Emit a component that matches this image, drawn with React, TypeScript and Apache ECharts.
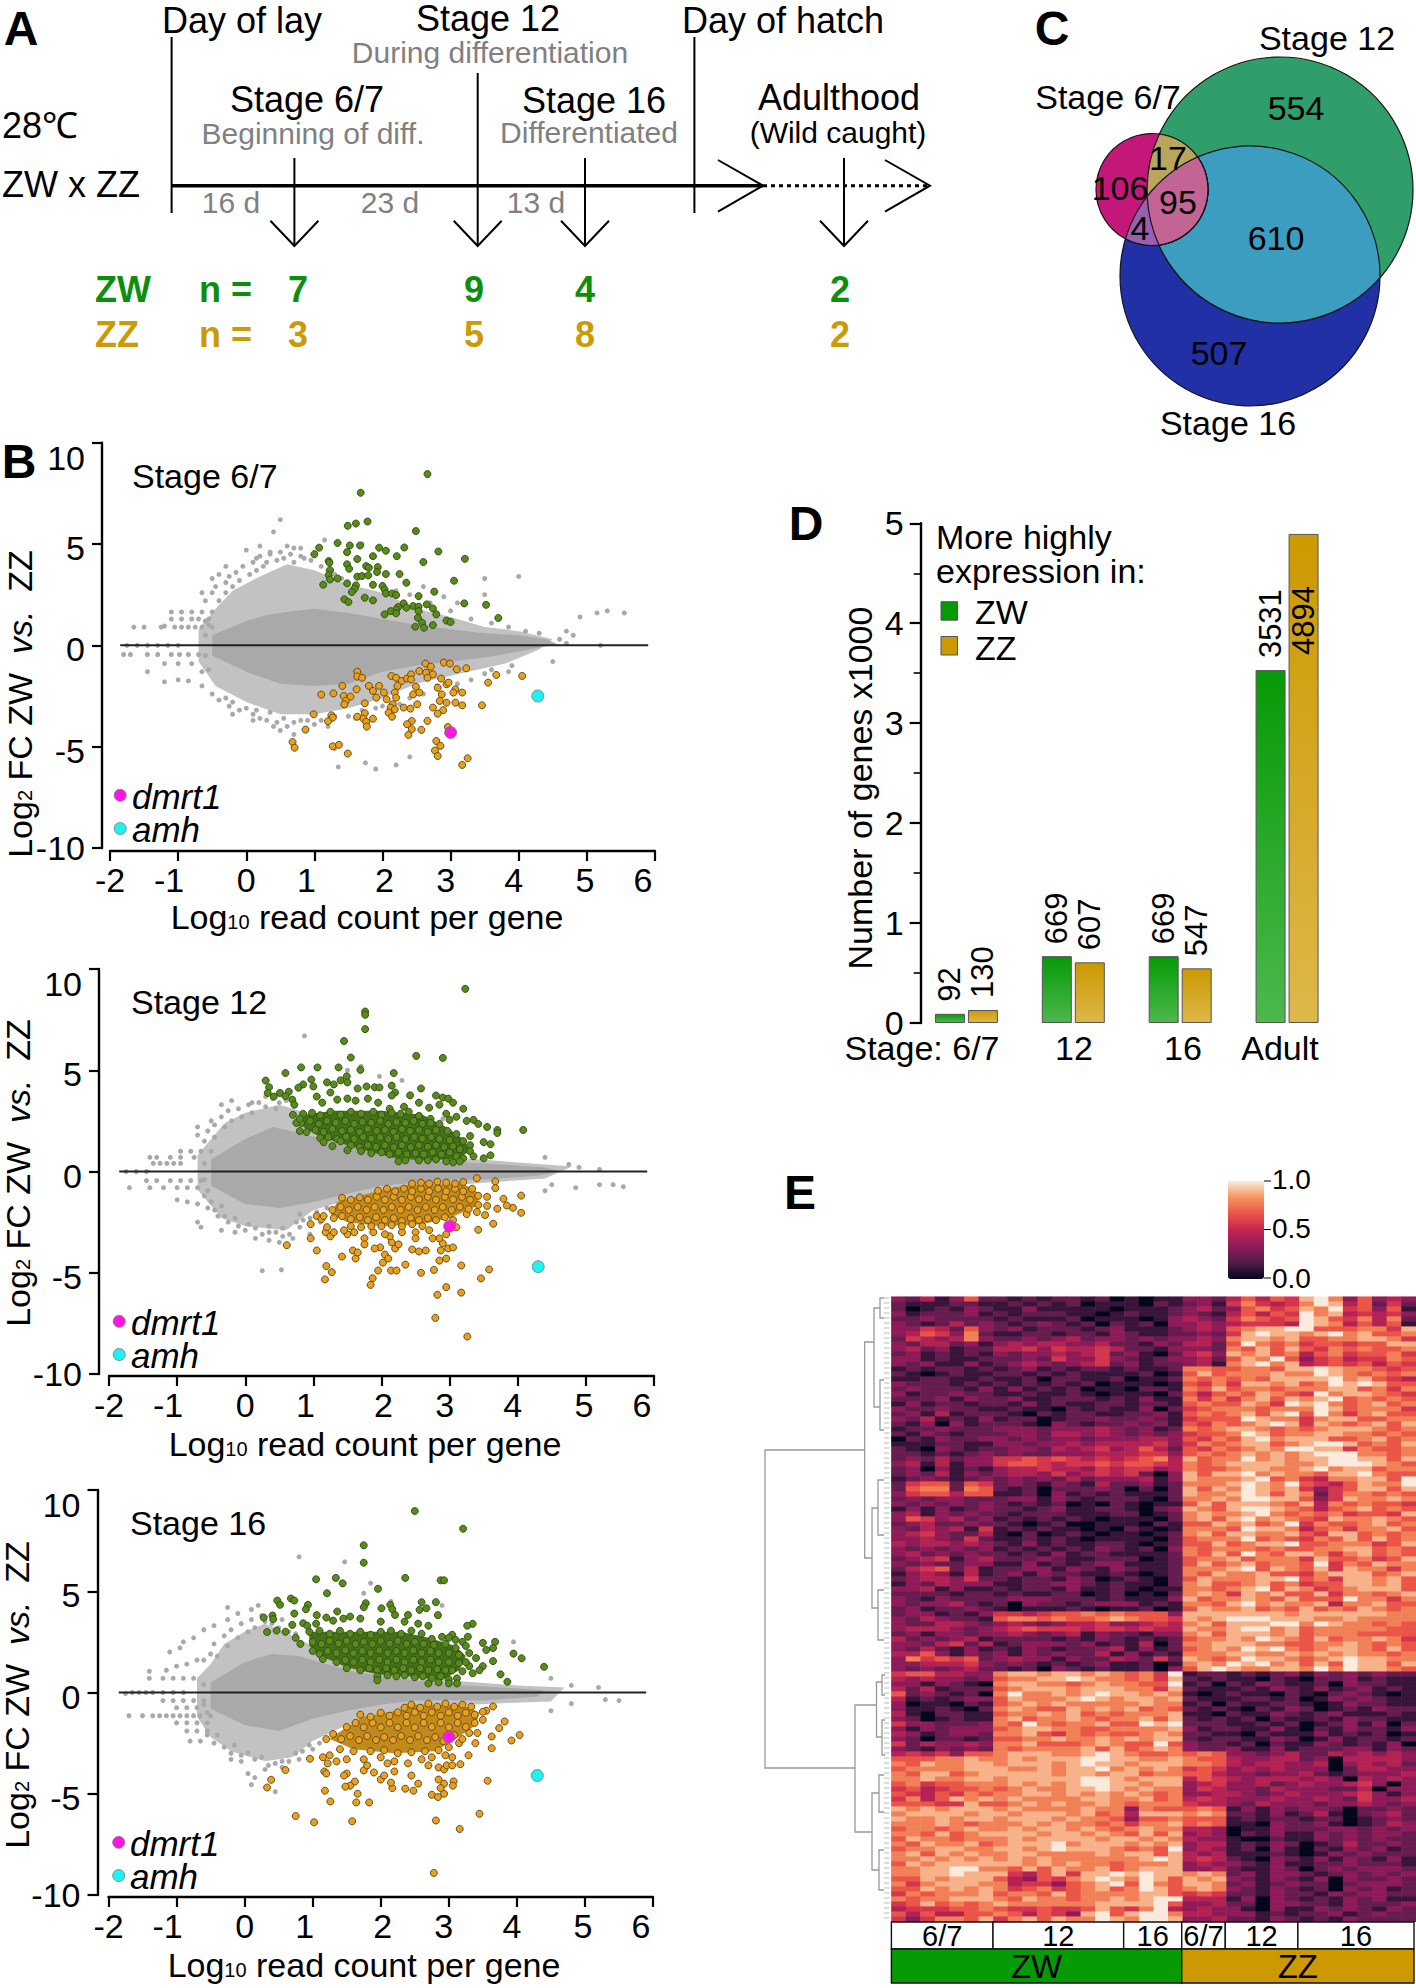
import React, { useEffect, useRef } from "react";
import * as echarts from "echarts";

const FONT = "Liberation Sans, Arial, sans-serif";
const pairs = (a: number[]) => { const o: number[][] = []; for (let i = 0; i + 1 < a.length; i += 2) o.push([a[i], a[i + 1]]); return o; };

// ---- Panel B: stage 6/7
const coreB1 = [[-.5,.5],[0,1.2],[.3,1.5],[.7,1.7],[1,1.8],[1.5,1.6],[2,1.3],[2.5,1],[3,.8],[3.5,.6],[4,.5],[4.4,.3],[4.6,0],[4.4,-.05],[4,-.3],[3.5,-.6],[3,-.8],[2.5,-1],[2,-1.3],[1.5,-1.9],[1,-2],[.5,-1.9],[0,-1.3],[-.5,-.5]];
const fringeB1 = [[-.7,.8],[-.45,1.8],[-.2,2.7],[.2,3.4],[.6,4],[1,3.7],[1.5,3],[2,2.6],[2.5,1.8],[3,1.4],[3.5,.9],[4,.7],[4.5,.3],[4.3,-.2],[3.8,-.9],[3,-1.5],[2.5,-1.9],[2,-2.6],[1.5,-3.1],[1,-3.4],[.5,-3.4],[0,-2.8],[-.45,-2],[-.7,-.8]];
const greyB1 = [-1.65,.9,-1.5,.9,-1.25,.9,-1.2,.95,-1.05,.9,-.95,.9,-.85,.9,-.75,.9,-.65,.9,-.5,.9,-1.1,1.3,-.95,1.3,-.8,1.3,-.7,1.3,-.55,1.3,-1.1,1.65,-.95,1.65,-.8,1.65,-.65,1.65,-.5,1.65,-1.8,-.45,-1.7,-.45,-1.45,-.45,-1.3,-.45,-1.1,-.45,-.98,-.45,-.85,-.45,-.7,-.45,-1.75,0,-1.6,0,-1.45,0,-1.3,0,-1.15,0,-1,0,-1.2,-.9,-1,-.9,-.8,-.9,-1.45,-1.3,-1.2,-1.8,-1,-1.7,-.85,-1.75,-.65,-2,.5,6.2,.4,5.6,0,4.7,.2,4.9,-.4,3.5,-.65,2.6,-.5,3.3,-.3,3.9,.15,4.3,.35,4.6,.6,4.9,.8,4.4,1.15,5.2,1.7,5,2.6,2.9,2.9,2.4,3.1,2.1,3.5,3.3,3.5,2.5,4,3.4,5.15,1.6,5.3,1.7,5.55,1.6,4.8,.5,4.9,1.4,4.5,-.8,5.2,0,.1,-3.7,-.2,-3.4,.4,-4,.5,-4.2,.7,-4.4,1.3,-5.1,1.35,-6,1.75,-5.8,1.9,-6.1,2.2,-5.9,2.4,-5.5,4.7,.7,3.5,-1.4,3.85,-1.3,
-.6,2.2,-.5,2.6,-.45,2.9,-.4,2.2,-.3,3.1,-.3,2.6,-.25,3.4,-.2,2.9,-.15,3.6,-.1,3.2,-.05,3.9,.05,3.5,.1,4.1,.15,3.7,.2,4.4,.25,3.9,.3,4.1,.35,4.5,.45,4.2,.5,4.6,.55,4.3,.65,4.5,.7,4.1,.8,4.8,.85,4.3,.95,4.2,1.1,3.9,1.2,3.7,1.3,3.5,1.4,3.3,.7,4.8,
-.5,-2.4,-.4,-2.7,-.3,-2.6,-.25,-3,-.2,-2.8,-.1,-3.2,0,-3.1,.1,-3.4,.15,-3.2,.2,-3.6,.3,-3.7,.35,-3.3,.45,-3.8,.55,-3.6,.6,-4,.7,-3.8,.8,-3.7,.9,-3.7,1,-3.9,1.1,-3.7,1.2,-4,1.3,-3.5,1.5,-3.5,1.6,-3.6,1.7,-3.2,1.9,-3.1,2,-3,2.25,-2.9,2.4,-2.6,2.6,-2.4,2.8,-2,3.1,-1.9,3.3,-1.7,3.6,-1.2,3.9,-1,
2,3,2.2,2.7,2.4,2.5,2.7,2.1,3,1.7,3.3,1.3,3.6,1.1,3.85,.9,4.1,.7,4.3,.6,4.6,.3,4.7,.1,-.6,.5,-.6,-.5,-.55,1,-.55,-1.2,-.65,-1.3,-.6,1.2];
const upB1 = [2.66,8.45,1.68,7.53,1.61,6.01,1.49,5.9,1.78,6.11,2.49,5.64,1.34,5.05,1.07,4.82,1,4.5,1.52,4.93,1.67,4.93,1.48,4.6,1.95,4.82,2.05,4.67,2.32,4.83,2.82,4.63,2.21,4.4,1.63,4.26,1.86,4.4,3.21,4.27,1.21,4.16,1.22,4.08,1.48,4,1.51,3.78,1.76,3.91,1.8,3.83,1.93,3.86,1.92,3.62,2.6,4.11,1.23,3.71,1.21,3.47,1.23,3.25,1.34,3.3,1.63,3.39,1.7,3.42,1.79,3.45,2.05,3.52,2.25,3.52,3.05,3.19,1.48,3.06,1.13,2.99,1.61,2.96,1.86,2.99,1.59,2.79,1.55,2.63,2,2.93,2.03,2.76,2.05,2.56,2.14,2.56,2.2,2.48,2.35,3.09,2.76,2.65,2.53,2.43,1.44,2.27,1.5,2.14,1.74,2.35,1.86,2.22,3.2,2.07,3.52,2,2.31,2.07,2.23,1.89,2.2,1.77,2.12,1.69,2.03,1.53,2.2,1.58,2.35,1.86,2.45,1.94,2.53,1.91,2.65,2.02,2.74,1.82,2.79,1.53,2.53,1.69,2.52,1.36,2.58,1.12,2.48,.92,2.61,.87,2.74,1,2.94,1.22,3,1.15,3.7,1.35];
const downB1 = [1.63,-1.3,1.63,-1.54,1.7,-1.6,1.41,-2,1.62,-2.17,1.8,-2,1.95,-2,1.86,-2.25,2.02,-2.33,2.13,-1.51,2.2,-1.6,2.28,-1.76,2.36,-1.64,2.42,-1.43,2.42,-1.68,2.54,-1.27,2.63,-.9,2.71,-1.05,2.64,-1.35,2.74,-1.43,2.66,-1.6,2.9,-.85,2.99,-.9,3.09,-1.18,3.23,-1.13,3.67,-1.46,4.05,-1.51,3.55,-1.84,2.86,-1.64,2.94,-1.92,2.81,-2.09,2.97,-1.84,3.07,-2.17,3.04,-2.33,3.17,-2.33,2.22,-2,2.18,-2.33,2.49,-2.04,2.45,-2.42,2.54,-2.33,2.2,-2.58,2.06,-2.66,1.91,-2.58,1.1,-2.43,1.28,-2.37,1.43,-2.5,1.53,-2.53,1.46,-2.74,1.44,-2.91,1.74,-2.86,2.87,-2.42,2.84,-2.74,2.94,-2.83,3.07,-2.83,3.17,-2.96,3.46,-2.96,2.51,-2.91,2.74,-3.07,2.89,-3.2,2.81,-3.37,2.15,-2.91,2.12,-3.07,2.18,-3.16,2.31,-3.07,2.41,-3.12,2.09,-3.32,2.14,-3.52,.99,-3.4,1.25,-3.45,1.27,-3.57,1.2,-3.75,1.63,-3.52,1.74,-3.35,1.72,-3.62,1.86,-3.62,1.76,-3.78,1.77,-4.01,.87,-4.16,2.43,-3.73,2.36,-3.89,2.66,-3.73,2.96,-4.03,2.43,-4.14,2.38,-4.42,2.57,-4.17,.68,-4.77,.71,-5.05,1.27,-4.98,1.36,-4.91,1.49,-5.34,2.79,-4.72,2.85,-4.96,2.77,-5.19,2.81,-5.46,3.25,-5.57,3.17,-5.9];

// ---- Panel B: stage 12
const coreB2 = [[-.5,.6],[0,1.6],[.4,2.2],[.8,1.9],[1.5,1.3],[2,.9],[2.5,.6],[3,.5],[3.5,.4],[4,.3],[4.4,.2],[4.6,0],[4.3,-.2],[3.5,-.4],[3,-.45],[2.5,-.55],[2,-.7],[1.5,-1.1],[1,-1.5],[.5,-1.8],[0,-1.6],[-.5,-.7]];
const fringeB2 = [[-.7,.8],[-.5,1.6],[-.3,2.4],[0,2.9],[.5,3.3],[.8,3],[1.1,2.4],[2,1.4],[3,.7],[4,.45],[4.8,.25],[4.4,-.35],[3.5,-.55],[2,-.95],[1,-1.9],[.6,-2.9],[0,-2.7],[-.35,-2.3],[-.7,-.9]];
const greyB2 = [-1.75,0,-1.6,0,-1.45,0,-1.35,.4,-1.25,.4,-1.15,.4,-1.05,.4,-.95,.4,-1.4,.7,-1.3,.7,-1.1,.7,-.95,.7,-.75,.7,-.95,1,-.8,1,-.65,1,-.5,1,-1.45,-.45,-1.3,-.45,-1.1,-.45,-.95,-.45,-.8,-.45,-.65,-.45,-1.7,-.8,-1.4,-.8,-1.2,-.8,-1,-.8,-.85,-.8,-.7,-.8,-1,-1.4,-.85,-1.5,-.7,-1.6,-.55,-1.8,-.4,-2.2,-.7,-2.5,-.65,-2.75,-.35,-2.9,-.15,-3,.15,-3.3,.35,-3.4,.55,-3.2,.35,-3,-.35,3.3,-.5,2.5,-.7,1.8,-.7,2.2,-.2,3.5,.1,3.4,.3,3.7,.87,6.7,1.7,5.2,1.97,4.7,2.3,4.5,1.5,5,2.9,2.6,4.4,.7,4.75,.35,4.9,.2,5.2,.1,4.4,-.95,4.5,-.65,4.85,-.8,5.2,-.65,5.4,-.65,5.55,-.75,.25,-4.9,.53,-4.85,.5,-3.5,.7,-3.3,.95,-3.1,1.1,-2.5,.85,-2.4,.8,-2.75,
-.6,1.5,-.55,2,-.45,2.3,-.45,1.7,-.35,2.7,-.3,2.2,-.25,3,-.2,2.5,-.1,3.1,-.05,2.7,.05,3.3,.1,2.9,.2,3.4,.3,3.2,.4,3.6,.5,3.4,.6,3.5,.45,3.1,
-.6,-1.2,-.5,-1.5,-.45,-1.9,-.35,-1.7,-.3,-2.2,-.25,-2.5,-.15,-2.3,-.1,-2.7,0,-2.9,.05,-2.6,.15,-2.8,.25,-3.1,.35,-2.7,.45,-3,.55,-2.8,.65,-3.1,.75,-2.5,.8,-2.1,.95,-2.3,1.05,-2,1.2,-1.8,1.3,-2.3,-.6,.4,-.6,-.4,-.55,-.95];
const upB2 = [3.23,9.02,1.76,7.9,1.76,7.74,1.76,7.03,1.45,6.44,1.55,5.63,2.51,5.71,2.9,5.61,1.37,5.14,1.06,5.14,.82,5.14,1.69,5.02,.59,4.86,2.18,4.86,.3,4.49,.35,4.16,.33,3.88,.97,4.54,.85,4.3,.78,4.14,.64,3.94,.51,3.88,.59,3.72,.42,3.7,.69,3.55,.72,3.3,.7,2.8,1,4.2,1.2,4.4,1.3,4.3,1.4,4.5,1.49,4.7,1.5,4.4,1.65,4.1,1.78,4.2,1.9,4.16,1.97,4.15,2.15,4.24,2.2,3.9,2.15,3.75,2.42,3.76,2.58,4.1,2.8,3.75,2.9,3.65,2.98,3.6,3.05,3.4,3.2,3.1,3.35,2.55,3.25,2.5,3.42,2.35,3.7,2.05,3.7,1.9,4.08,2.05,3.55,2.2,
1.05,3.7,1.13,3.4,1.25,3.9,1.35,3.55,1.5,3.6,1.62,3.5,1.8,3.6,1.95,3.4,2.12,3.1,2.33,3.2,2.55,3.4,2.7,3.15,2.85,3.3,2.95,2.85,3.1,2.7,3,2.55,
.85,2.85,.98,2.9,1.1,2.78,1.25,2.95,1.4,2.8,1.55,2.95,1.7,2.85,1.88,2.95,2,2.8,2.15,2.9,2.28,2.85,2.4,2.95,2.55,2.75,2.72,2.6,
.82,2.4,.95,2.5,1.08,2.35,1.2,2.5,1.33,2.4,1.47,2.5,1.6,2.35,1.72,2.45,1.85,2.4,1.98,2.5,2.1,2.35,2.22,2.45,2.35,2.4,2.47,2.5,2.6,2.35,2.72,2.4,2.85,2.35,
.8,2,.9,1.95,1.03,2.05,1.15,1.95,1.28,2.1,1.42,2,1.55,2.05,1.68,1.95,1.8,2.1,1.93,2,2.05,2.05,2.18,1.95,2.3,2.1,2.42,2,2.55,2.05,2.68,1.95,2.8,2.05,2.97,2,3.1,1.85,3.3,1.75,3.5,1.45,3.6,1.35,
1.1,1.65,1.22,1.7,1.35,1.6,1.48,1.72,1.6,1.6,1.73,1.7,1.85,1.62,1.98,1.7,2.1,1.6,2.22,1.7,2.35,1.6,2.48,1.7,2.6,1.62,2.73,1.7,2.85,1.6,3,1.55,3.2,1.5,3.3,1.3,
1.28,1.25,1.55,1.3,1.68,1.2,1.8,1.3,1.92,1.22,2.05,1.3,2.18,1.2,2.3,1.3,2.43,1.2,2.55,1.3,2.68,1.22,2.8,1.3,2.92,1.2,3.05,1.25,3.15,1.1,3.3,1,3.35,.75,3.6,.8,3.5,.65,
1.85,.9,2,.95,2.12,.85,2.25,.95,2.37,.85,2.5,.9,2.62,.85,2.75,.95,2.88,.85,3,.95,3.1,.75,3.2,.65,
2.25,.5,2.35,.55,2.55,.55,2.68,.55,2.8,.6,2.95,.5,3.05,.45,3.15,.5,.75,2.4,.8,2.6,1.15,1.45,1.5,1.05,1.7,1,1.4,1.5];
const denseUpB2 = [[.85,2.8],[1.3,3],[2,3],[2.6,2.8],[2.95,2.2],[3.2,1.6],[3.3,1],[3.1,.6],[2.6,.55],[2.2,.65],[1.8,1],[1.4,1.4],[1.1,1.7],[.85,2.2]];
const downB2 = [3.26,-8.15,2.79,-7.23,2.82,-6.09,3.17,-5.98,2.95,-5.71,3.46,-5.28,3.58,-4.84,3.17,-4.64,1.84,-5.6,1.87,-5.27,1.17,-5.33,1.27,-4.97,1.19,-4.67,1.95,-4.89,2.14,-4.89,2.22,-4.89,2.58,-5,2.77,-4.86,.61,-3.64,4.05,-1.19,4.05,-2.04,3.93,-1.79,3.84,-1.68,3.79,-1.35,3.7,-1.84,3.64,-2.58,3.42,-2.88,3.4,-.33,3.67,-.49,3.67,-.82,
.96,-2.6,.96,-3.3,1.05,-2.2,1.05,-3.9,1.12,-2.35,1.18,-3,1.25,-3.2,1.3,-3,1.42,-4.2,1.58,-3.9,1.62,-4.3,1.65,-4,2.05,-4.1,2.1,-4.3,2.02,-4.5,2.2,-3.8,2.35,-4.6,2.45,-3.85,2.55,-3.95,2.65,-3.9,2.85,-4.4,2.95,-4.3,2.87,-3.9,2.98,-3.8,3.05,-3.75,2.9,-3.55,2.85,-3.3,2.75,-3.3,2.95,-3.1,3.1,-2.75,2.25,-3.6,2.15,-3.5,1.98,-3.75,1.9,-3.8,1.75,-3.3,1.75,-3.6,2.12,-3.2,2.05,-3.1,1.88,-3,2.3,-3,2.5,-3,2.5,-3.3,2.7,-2.9,1.5,-3.1,1.6,-3,1.45,-2.9,1.2,-2.75,
1.15,-2.2,1.3,-2.3,1.42,-2.2,1.55,-2.35,1.68,-2.25,1.8,-2.4,1.92,-2.25,2.05,-2.4,2.18,-2.3,2.3,-2.45,2.43,-2.3,2.55,-2.4,2.68,-2.3,2.8,-2.4,2.93,-2.25,3.05,-2.4,3.25,-2.1,3.4,-2,3.52,-2.15,
1.28,-1.9,1.4,-1.75,1.52,-1.9,1.65,-1.75,1.78,-1.9,1.9,-1.75,2.03,-1.9,2.15,-1.75,2.28,-1.9,2.4,-1.75,2.53,-1.9,2.65,-1.75,2.78,-1.9,2.9,-1.75,3.03,-1.9,3.15,-1.75,3.28,-1.85,3.42,-1.65,3.55,-1.7,
1.42,-1.3,1.55,-1.4,1.68,-1.28,1.8,-1.4,1.93,-1.25,2.05,-1.4,2.18,-1.25,2.3,-1.4,2.43,-1.25,2.55,-1.38,2.68,-1.25,2.8,-1.4,2.93,-1.25,3.05,-1.38,3.18,-1.25,3.3,-1.4,3.42,-1.2,3.55,-1.25,
1.95,-.95,2.08,-.85,2.2,-.98,2.33,-.85,2.45,-.98,2.58,-.85,2.7,-.98,2.83,-.85,2.95,-.98,3.08,-.85,3.2,-.98,3.33,-.85,
2.45,-.6,2.58,-.55,2.7,-.6,2.82,-.5,2.95,-.55,3.08,-.6,3.2,-.52,
1.85,-2.7,2,-2.7,2.15,-2.65,2.3,-2.7,2.45,-2.6,2.6,-2.7,1.55,-2.7,1.7,-2.75];
const denseDownB2 = [[1.35,-1.5],[1.9,-1],[2.4,-.65],[3.2,-.6],[3.45,-1.1],[3.4,-1.7],[3,-2.3],[2.6,-2.6],[2,-2.7],[1.5,-2.5],[1.25,-2.1]];

// ---- Panel B: stage 16
const coreB3 = [[-.5,.5],[0,1.5],[.4,1.9],[.8,1.8],[1.5,1.1],[2,.8],[2.5,.6],[3,.4],[3.5,.3],[4,.2],[4.4,.1],[4.3,-.2],[3.5,-.4],[3,-.4],[2.5,-.4],[2,-.6],[1.5,-.9],[1,-1.3],[.5,-1.9],[0,-1.6],[-.5,-.8]];
const fringeB3 = [[-.7,.7],[-.5,1.4],[-.3,2.4],[0,3],[.3,3.4],[.7,2.8],[1,2.3],[1.5,1.5],[2,1],[3,.6],[4,.35],[4.7,.25],[4.5,-.45],[3.6,-.55],[2.5,-.75],[1.5,-1.6],[1,-2.4],[.7,-3.2],[.3,-3.4],[-.2,-2.9],[-.5,-2.2],[-.7,-1.2]];
const greyB3 = [-1.75,-.05,-1.65,0,-1.55,0,-1.45,0,-1.35,0,-1.2,0,-1.05,0,-.9,0,-1.7,-1.15,-1.5,-1.15,-1.35,-1.15,-1.25,-1.15,-1.15,-1.15,-1.05,-1.15,-.95,-1.15,-.85,-1.15,-.75,-1.15,-.65,-1.15,-.5,-1.15,-1.2,-.4,-1.05,-.4,-.9,-.4,-.75,-.4,-.6,-.4,-1,-.75,-.85,-.75,-.7,-.75,-1,-1.5,-.85,-1.5,-.7,-1.5,-.55,-1.5,-.85,-1.9,-.7,-1.9,-.55,-1.9,-.8,-2.4,-.65,-2.4,-1.4,.7,-1.2,.7,-1.05,.7,-.9,.7,-.75,.7,-1.4,1.05,-1.15,1.1,-1,1.3,-.85,1.4,-.7,1.6,-1.1,2,-.95,2.2,-.9,2.5,-.75,2.7,-.6,3.1,-.45,3.3,-.25,3.6,-.1,3.9,.1,4.1,.2,4.3,-.25,4.2,.8,6.7,1.47,6.45,1.85,5.4,1.75,4.9,2.15,4.5,2.9,4.3,3.95,2.5,4.5,.7,4.8,.35,5.2,.25,5.3,-.35,5.5,-.4,4.5,-.9,4.8,-.55,.05,-4,.1,-4.55,.45,-4.9,.15,-4.2,.3,-3.8,-.05,-3.4,-.2,-3.3,.55,-3.4,.75,-3,1,-2.8,1.3,-2.1,
-.6,1.6,-.5,1.9,-.45,2.4,-.4,1.8,-.3,2.8,-.25,2.3,-.2,3.1,-.1,2.7,-.05,3.4,.05,3,.1,3.6,.15,3.2,.25,3.8,.3,3.5,.4,3.4,.5,3.2,.55,3.6,.65,3,.75,2.9,
-.55,-2.1,-.45,-2.5,-.4,-2.1,-.3,-2.7,-.2,-3,-.15,-2.6,-.05,-3.1,.05,-3,.15,-3.3,.25,-3.2,.35,-3.6,.45,-3.5,.55,-3.7,.65,-3.4,.8,-3.3,.85,-2.9,.95,-2.6,1.1,-2.5,1.2,-2.3,-.6,.4,-.6,-.6,-.55,-1];
const upB3 = [2.5,8.96,3.21,8.09,1.75,7.27,1.75,6.41,1.05,5.59,1.34,5.66,1.44,5.39,2.36,5.66,2.88,5.54,2.93,5.54,1.96,5.12,1.21,4.9,.48,4.54,.52,4.33,.68,4.64,.73,4.54,.93,4.33,.9,4.11,1.78,4.41,1.75,4.21,2.01,4.16,2.14,4.33,2.17,4.11,2.21,3.83,2.6,4.46,2.81,4.46,2.57,4.08,2.67,4.16,2.84,3.82,2.4,3.83,1.36,4,1.06,3.82,.73,3.9,.41,3.8,.28,3.7,.42,3.62,.33,2.99,.47,3.06,.7,3.34,.86,3.42,.92,3.3,1.05,3.4,3.35,3.39,3.27,3.3,4.4,1.27,4.07,1.69,3.95,1.92,3.86,.53,3.76,.9,3.65,1.55,3.68,2.5,3.65,2.2,3.5,2.45,3.55,2.1,3.4,1.7,3.5,1.3,3.45,1.1,3.35,.95,3.3,1.3,3.2,2.5,3.28,2.75,
.6,3,.75,2.7,.82,2.4,1.2,3.7,1.3,3.55,1.45,3.65,1.55,3.75,1.7,3.65,2,3.5,2.35,3.5,2.55,3.4,2.7,3.3,3.05,2.85,3,2.7,
.95,3,1.1,3.05,1.25,2.9,1.4,3.05,1.55,2.9,1.7,3,1.85,2.85,2,3,2.15,3.05,2.3,2.9,2.45,3.05,2.6,2.9,2.75,2.65,2.9,2.75,3.1,2.6,
1,2.5,1.13,2.4,1.25,2.55,1.38,2.42,1.5,2.55,1.63,2.4,1.75,2.5,1.88,2.4,2,2.55,2.13,2.42,2.25,2.55,2.38,2.4,2.5,2.5,2.63,2.4,2.78,2.35,2.95,2.4,3.1,2.2,3.25,2.3,
1,2.05,1.1,1.9,1.22,2.05,1.35,1.95,1.48,2.08,1.6,1.95,1.73,2.05,1.85,1.95,1.98,2.08,2.1,1.95,2.23,2.05,2.35,1.95,2.48,2.08,2.6,1.95,2.73,2.05,2.85,1.95,3,1.95,3.15,1.85,3.3,1.95,
1.15,1.65,1.35,1.5,1.48,1.6,1.6,1.5,1.73,1.62,1.85,1.5,1.98,1.62,2.1,1.5,2.23,1.62,2.35,1.5,2.48,1.62,2.6,1.5,2.73,1.62,2.85,1.5,3,1.5,3.15,1.45,3.25,1.5,
1.5,1.2,1.7,1.1,1.83,1.2,1.95,1.1,2.08,1.2,2.2,1.1,2.33,1.2,2.45,1.1,2.58,1.2,2.7,1.1,2.83,1.15,2.95,1.1,3.05,1.1,3.2,1.05,
1.95,.8,2.1,.85,2.23,.8,2.35,.85,2.5,.75,2.62,.8,2.75,.7,2.88,.8,3,.65,3.12,.7,1.95,.6,2.7,.45,2.85,.5,3,.45,3.12,.45];
const denseUpB3 = [[.95,3],[1.4,3],[2.3,3],[2.7,2.7],[3.1,2.3],[3.25,1.8],[3.15,1.1],[2.9,.6],[2.4,.8],[1.95,.9],[1.5,1.25],[1.15,1.75],[.95,2.3]];
const downB3 = [2.78,-8.91,3.16,-6.74,2.81,-6.32,3.45,-5.99,.75,-6.1,1.02,-6.41,1.58,-6.36,1.83,-5.43,1.64,-5.43,1.26,-5.38,1.66,-5,1.18,-4.85,.33,-4.69,.39,-4.31,.6,-3.83,.96,-3.27,3.57,-4.36,3.07,-4.39,3.06,-4.6,2.93,-4.5,2.75,-5.05,2.84,-5.16,2.93,-5,2.88,-4.72,2.36,-4.75,2.48,-4.85,2.17,-4.72,4.04,-2.1,3.92,-2.37,3.63,-2.17,3.65,-.69,3.55,-.9,3.82,-1.43,3.74,-1.76,3.42,-2,3.63,-2.75,3.29,-3.1,3.39,-2.5,3.17,-3.54,
1.17,-3.9,1.2,-4,1.5,-4,1.46,-4.1,1.62,-4.4,1.55,-4.6,1.48,-4.65,1.9,-3.95,1.75,-3.85,2,-4.3,2.05,-4.1,2.15,-4.45,2.2,-3.9,2.45,-4.1,2.55,-4.5,2.7,-3.6,2.85,-3.7,2.93,-3.8,2.97,-3.6,2.85,-4.3,3.05,-3.6,3.05,-3.2,2.95,-3.1,2.75,-3.2,2.6,-3.3,2.4,-3.5,2.2,-3.4,2,-3.2,2.1,-3.5,1.75,-3.3,1.8,-3.6,1.5,-3.3,1.35,-3.4,1.22,-3.5,1.15,-3.2,1.25,-3.1,1.4,-2.8,1.6,-2.9,1.85,-2.9,2.05,-2.85,2.25,-3,2.45,-2.95,2.65,-2.9,2.85,-2.85,3,-2.7,3.15,-2.5,
1.2,-2.3,1.3,-2.05,1.42,-2.3,1.55,-2.15,1.68,-2.35,1.8,-2.15,1.93,-2.35,2.05,-2.2,2.18,-2.35,2.3,-2.15,2.43,-2.35,2.55,-2.15,2.68,-2.35,2.8,-2.2,2.92,-2.4,3.08,-2.1,3.2,-2.3,3.3,-2,
1.5,-1.7,1.63,-1.5,1.75,-1.72,1.88,-1.5,2,-1.72,2.13,-1.5,2.25,-1.72,2.38,-1.5,2.5,-1.72,2.63,-1.5,2.75,-1.7,2.88,-1.5,3,-1.72,3.13,-1.5,3.25,-1.7,3.38,-1.5,3.5,-1.35,
1.7,-1.1,1.85,-1.2,2,-1,2.13,-1.15,2.25,-.98,2.38,-1.15,2.5,-.98,2.63,-1.15,2.75,-.98,2.88,-1.15,3,-.98,3.13,-1.15,3.25,-1,3.38,-1.1,3.5,-.95,
2.35,-.75,2.45,-.6,2.58,-.75,2.7,-.55,2.83,-.7,2.95,-.55,3.08,-.7,3.2,-.6,3.33,-.7];
const denseDownB3 = [[1.75,-1.2],[2.3,-.85],[2.5,-.6],[3.2,-.6],[3.45,-1],[3.4,-1.6],[3.1,-2.3],[2.8,-2.9],[2.2,-3],[1.6,-2.8],[1.25,-2.3],[1.5,-1.7]];

// ---- Highlighted genes
const dmrt1Values = [[3, -4.3], [3, -2.7], [3, -2.2]];
const amhValues = [[4.28, -2.5], [4.3, -4.7], [4.3, -4.1]];
const legendDots = [[-1.85, -7.4], [-1.85, -9.04]];
const xLabelNudge = [0, -9, 0, -8, 2, -5, -5, -2, -12];

// ---- Panel D
const barCategories = ["6/7", "12", "16", "Adult"];
const zwGenes = [92, 669, 669, 3531];
const zzGenes = [130, 607, 547, 4894];

// ---- Panel E  (groups of columns: 7 9 4 | 3 5 8)
const heatTop = [
"3241362 212122120 1011 332 46465 89736343","2111221 121212011 1021 231 57545 79846252","2012132 113111110 1112 342 36756 87956361","3122231 212221101 2112 321 46465 97845453","2232222 121112011 1013 432 57656 98657472","3212423 212321202 1203 343 45554 98746461","3354263 231222123 1112 343 67889 96667758","3465372 112212213 2112 232 58988 78978667","2543473 223234233 2323 343 78878 66778875","3244231 343443342 2132 442 69767 56656688",
"3423122 445354454 2213 332 76868 65767667","2312121 323343452 3102 453 87867 46756675","3312112 223253353 2123 342 68796 35645576","3231131 234323452 3122 341 78978 45656465","1212212 123121221 2112 776 67768 89877656","2101211 221212111 1201 686 77787 79876767","1122112 112022112 0112 767 67688 88978654","3222121 212121201 1101 657 58878 67989866","2322213 131212011 0221 768 67767 77886757","3122322 112112101 1102 646 76876 59788765",
"2223132 231122212 1311 757 57868 78967676","1312212 213121122 1221 676 68759 89767867","3223221 121102121 1302 567 77677 79867775","2314122 210212211 2231 676 78689 69757866","3241213 122012232 2321 566 69877 57886677","2130312 221032122 3231 657 67898 58767868","1223222 333233343 2312 767 88767 67888767","2132122 233244343 2323 566 79867 78877676","0213223 323233233 3443 657 68978 88667867","1112211 332334344 4453 576 78867 89986768",
"2103212 233243453 4642 657 67879 98857667","2212123 232233344 4553 676 78787 89997767","2324233 556565454 5674 867 79787 88998868","3414133 566545565 6654 767 88887 78999876","2303121 344544354 5534 766 78877 89788677","2324132 344353454 5203 868 89787 76889766","1232123 232324233 3413 877 78967 54778869","2566265 232132142 2312 777 89879 65468779","2677276 212022232 0202 868 79878 53568868","3566466 112031212 1112 877 89868 72577676",
"2323322 233132122 2102 778 79988 63587787","3232323 212120102 1011 686 88876 84767665","1313123 221231122 1023 876 89987 64678676","3413232 212221112 2012 787 78976 76756658","3653423 121212101 1102 786 89787 65877876","2342232 210120011 1021 668 78679 57667867","3243415 121211010 2101 777 69887 46757786","3453224 102012101 1012 786 88778 65886767","3343252 112121011 1102 677 79676 57686867","4344343 213121122 1012 668 67889 66777568",
"3232323 121212132 1203 767 77676 67788676","3423232 212131221 1112 768 69768 87578676","2345134 222321122 2012 677 86777 58667568","3232233 113121233 1112 686 78677 69576877","2456241 223313213 2112 777 89687 68587757","1343141 231322112 1012 768 77866 57888678","2344352 212213201 2102 687 77889 67588786","1324333 112233212 1102 786 67867 56688786","3341311 212213112 1011 776 78968 75678886","2222122 121122012 0102 787 58786 68577678",
"3213222 233322212 1113 867 78768 66697757","3233421 203221233 3121 776 89787 78477866","2312232 101112101 1201 687 78676 86768767","2331213 554566767 6663 888 88887 88888877","3243221 677676678 7665 878 99988 87787777","3224432 343234453 3454 786 88899 79877676","3444323 456555455 4544 877 89978 67777766","2313323 343234132 2133 786 88878 67776666","4232341 222212132 1212 677 87987 68677875","3324524 123332312 1402 778 88776 67787676",
"3242131 213212234 1312 678 79897 67887686","4463132 313232241 3121 777 88778 78787767","3756562 343313224 3252 876 79887 67898877","3344453 232121231 1201 787 98978 68698868","3232342 212032121 1203 689 87788 79798876"];
const heatBottom = [
"5664433 788788787 6759 122 12123 13232322","4343323 677889877 6758 212 11021 02231211","3313210 788776787 7669 120 21321 12032211","4241222 678887888 7758 211 12132 13123121","6232120 797787898 8787 101 21102 10232101","4121233 687778987 8878 211 12212 01323211","3011021 678787777 7877 120 21122 10132211","3112102 787668787 8676 212 10213 20121322","4102211 677878676 7778 110 21132 12311121","3201211 786778767 7868 212 12021 12132211",
"5332223 769767786 6989 222 11212 01231302","3132333 678877667 7778 312 21131 02132213","4312332 778657676 6787 221 10211 13121201","3202212 667787787 8788 212 21132 01312212","5243343 778666787 6696 322 12021 13212130","3213232 767777868 6787 322 31131 22233132","4545366 788877898 7667 676 33234 22434343","6667787 787888998 8778 766 43344 23044443","7687788 788878988 7888 776 43443 34034342","6777788 877878897 8787 565 34343 33024433",
"7688678 888878878 8677 664 33233 42123334","7787788 788888998 7888 465 43444 34304343","6756677 787878998 8788 345 33423 43345303","5645667 678778898 7877 354 33243 33224033","6546576 778878787 8767 334 43234 33345313","5746878 787777887 7867 454 33343 34325334","6665586 678787787 6777 544 32433 32334323","8787888 787777877 3766 676 13132 33202232","7888878 878887867 4888 787 22131 24102342","8778788 788878776 3667 666 12122 12201232",
"7778767 778787767 5778 676 11032 23101243","6776787 787887876 7877 443 01132 22332323","7768678 888788787 6868 343 02131 13232332","6877677 787888878 8787 433 10021 13232322","7687786 788897888 7878 344 12132 01242232","6778877 887898887 6769 343 12031 02132312","7868787 788777787 8868 434 11121 01323222","7787878 787877777 7898 454 21032 13132131","6878888 887878776 7778 343 32131 12232221","7788997 768687786 7888 334 21132 02323332",
"7788988 854685889 8988 787 23133 21232323","6687888 643657898 7986 878 32132 13032232","7578887 745536789 6976 887 23123 22023332","6687878 756756786 7986 787 32132 12032312","5767778 677686777 7886 565 22132 21323322","7677888 768776778 7899 444 13032 12132311","5686767 877777788 8896 334 22033 22132223","4555667 655655686 5794 343 31031 13232132","6464466 764653896 8997 443 33121 22312322","5357768 578687798 7998 334 22132 12132222"];
const stageGroups = [["6/7", 7], ["12", 9], ["16", 4], ["6/7", 3], ["12", 5], ["16", 8]] as [string, number][];
const rocket = ["#03051a", "#521c4a", "#8e1b58", "#c72550", "#ea5548", "#f5955f", "#faebdd"];

// ---- Panel C
const vennA = { x: 1152, y: 189.5, r: 56 };
const vennB = { x: 1280, y: 190, r: 133 };
const vennC = { x: 1250, y: 276, r: 130 };
const vennLabels: [string, number, number][] = [["554", 1296, 108], ["17", 1168, 158], ["106", 1120, 188], ["95", 1178, 202], ["610", 1276, 238], ["4", 1140, 228], ["507", 1219, 353]];

type C = { x: number; y: number; r: number };
function meet(a: C, b: C) {
  const dx = b.x - a.x, dy = b.y - a.y, d = Math.hypot(dx, dy);
  const d1 = (d * d + a.r * a.r - b.r * b.r) / (2 * d), h = Math.sqrt(a.r * a.r - d1 * d1);
  const ux = dx / d, uy = dy / d, mx = a.x + ux * d1, my = a.y + uy * d1;
  return { p: [mx - uy * h, my + ux * h], q: [mx + uy * h, my - ux * h], d1, d2: d - d1 };
}
function lens(a: C, b: C) {
  const m = meet(a, b);
  return `M${m.p[0]} ${m.p[1]}A${a.r} ${a.r} 0 ${m.d1 < 0 ? 1 : 0} 0 ${m.q[0]} ${m.q[1]}A${b.r} ${b.r} 0 ${m.d2 < 0 ? 1 : 0} 0 ${m.p[0]} ${m.p[1]}Z`;
}
function inside(p: number[], c: C) { return Math.hypot(p[0] - c.x, p[1] - c.y) < c.r; }
function triple(a: C, b: C, c: C) {
  const pick = (u: C, v: C, w: C) => { const m = meet(u, v); return inside(m.p, w) ? m.p : m.q; };
  const v1 = pick(a, b, c), v2 = pick(a, c, b), v3 = pick(b, c, a);
  const cr = (v2[0] - v1[0]) * (v3[1] - v1[1]) - (v2[1] - v1[1]) * (v3[0] - v1[0]);
  const s = cr > 0 ? 1 : 0;
  return `M${v1[0]} ${v1[1]}A${a.r} ${a.r} 0 0 ${s} ${v2[0]} ${v2[1]}A${c.r} ${c.r} 0 0 ${s} ${v3[0]} ${v3[1]}A${b.r} ${b.r} 0 0 ${s} ${v1[0]} ${v1[1]}Z`;
}
echarts.graphic.registerShape("vennBC", echarts.graphic.extendPath(lens(vennB, vennC), {}));
echarts.graphic.registerShape("vennAB", echarts.graphic.extendPath(lens(vennA, vennB), {}));
echarts.graphic.registerShape("vennAC", echarts.graphic.extendPath(lens(vennA, vennC), {}));
echarts.graphic.registerShape("vennABC", echarts.graphic.extendPath(triple(vennA, vennB, vennC), {}));

const T = (text: string, x: number, y: number, o: any = {}) => ({
  type: "text", x, y, rotation: o.rotation || 0, z: 50,
  style: { text, fontSize: o.size || 34, fontFamily: FONT, fill: o.fill || "#000", align: o.align || "center", verticalAlign: "middle", fontWeight: o.weight || "normal", fontStyle: o.italic ? "italic" : "normal", rich: o.rich },
});
const L = (x1: number, y1: number, x2: number, y2: number, w = 2, stroke = "#000", dash?: number[]) => ({
  type: "line", z: 40, shape: { x1, y1, x2, y2 }, style: { stroke, lineWidth: w, lineDash: dash },
});
const P = (pts: number[][], w = 2, stroke = "#000") => ({
  type: "polyline", z: 40, shape: { points: pts }, style: { stroke, lineWidth: w, fill: "none" },
});
const logRich = {
  a: { fontSize: 34, fontFamily: FONT, fill: "#000", lineHeight: 30 },
  b: { fontSize: 20, fontFamily: FONT, fill: "#000", verticalAlign: "bottom", lineHeight: 20, padding: [8, 0, 0, 0] },
  i: { fontSize: 34, fontFamily: FONT, fill: "#000", fontStyle: "italic", lineHeight: 30 },
};

function buildGraphic() {
  const g: any[] = [];
  const big = { size: 48, weight: "bold" };
  g.push(T("A", 21, 28, big), T("B", 19, 461, big), T("C", 1052, 28, big), T("D", 806, 523, big), T("E", 800, 1192, big));
  const gy = "#808080", sm = 30, lg = 36;
  g.push(T("Day of lay", 162, 20, { align: "left", size: lg }), T("Stage 12", 488, 18, { size: lg }), T("During differentiation", 490, 52, { size: sm, fill: gy }), T("Stage 6/7", 307, 99, { size: lg }), T("Beginning of diff.", 313, 133, { size: sm, fill: gy }), T("Stage 16", 594, 100, { size: lg }), T("Differentiated", 589, 132, { size: sm, fill: gy }), T("Day of hatch", 682, 20, { align: "left", size: lg }), T("Adulthood", 839, 97, { size: lg }), T("(Wild caught)", 838, 132, { size: sm }), T("28℃", 2, 125, { align: "left", size: lg }), T("ZW x ZZ", 2, 184, { align: "left", size: lg }), T("16 d", 231, 202, { size: sm, fill: gy }), T("23 d", 390, 202, { size: sm, fill: gy }), T("13 d", 536, 202, { size: sm, fill: gy }));
  g.push(L(171.6, 37, 171.6, 213), L(694.4, 37, 694.4, 213), L(477.7, 73, 477.7, 246), L(171.6, 185.7, 763, 185.7, 3.5), L(763, 185.7, 930, 185.7, 3, "#000", [4, 4]));
  g.push(P([[718, 160], [763, 185.7], [718, 211.7]]), P([[885, 160], [930, 185.7], [885, 211.7]]));
  for (const ax of [294.4, 477.7, 585, 844]) {
    if (ax !== 477.7) g.push(L(ax, 158, ax, 246));
    g.push(P([[ax - 24, 220.7], [ax, 246], [ax + 24, 220.7]]));
  }
  const zw = "#0d8f0d", zz = "#cc9a06", nb = { size: 36, weight: "bold" };
  g.push(T("ZW", 95, 289, { align: "left", fill: zw, ...nb }), T("n =", 199, 289, { align: "left", fill: zw, ...nb }), T("ZZ", 95, 334, { align: "left", fill: zz, ...nb }), T("n =", 199, 334, { align: "left", fill: zz, ...nb }));
  const cx = [298, 474, 585, 840];
  ["7", "9", "4", "2"].forEach((s, i) => g.push(T(s, cx[i], 289, { fill: zw, ...nb })));
  ["3", "5", "8", "2"].forEach((s, i) => g.push(T(s, cx[i], 334, { fill: zz, ...nb })));
  // panel C
  const ell = (c: C, fill: string) => ({ type: "circle", z: 30, shape: { cx: c.x, cy: c.y, r: c.r }, style: { fill, stroke: "#151515", lineWidth: 1.2 } });
  const reg = (t: string, fill: string) => ({ type: t, z: 31, x: 0, y: 0, style: { fill, stroke: "#151515", lineWidth: 1.2 } });
  g.push(ell(vennC, "#2230a6"), ell(vennB, "#2f9e6a"), reg("vennBC", "#3b9dbf"), { ...ell(vennA, "#c4177a"), z: 32 }, { ...reg("vennAB", "#b9a55c"), z: 33 }, { ...reg("vennAC", "#9b5fb0"), z: 33 }, { ...reg("vennABC", "#c26494"), z: 34 });
  vennLabels.forEach(([s, x, y]) => g.push(T(s, x, y)));
  g.push(T("Stage 12", 1327, 38), T("Stage 6/7", 1108, 97), T("Stage 16", 1228, 423));
  // panel B texts
  const panels = [
    { name: "Stage 6/7", nx: 132, ny: 476, dy: 796, ay: 829, yx: 20, yy: 704, xx: 367, xy: 917 },
    { name: "Stage 12", nx: 131, ny: 1002, dy: 1322, ay: 1355, yx: 18, yy: 1173, xx: 365, xy: 1444 },
    { name: "Stage 16", nx: 130, ny: 1523, dy: 1843, ay: 1876, yx: 17, yy: 1695, xx: 364, xy: 1965 },
  ];
  for (const p of panels) {
    g.push(T(p.name, p.nx, p.ny, { align: "left" }));
    g.push(T("dmrt1", p.nx, p.dy, { align: "left", italic: true, size: 35 }), T("amh", p.nx, p.ay, { align: "left", italic: true, size: 35 }));
    g.push(T("{a|Log}{b|10}{a| read count per gene}", p.xx, p.xy, { rich: logRich }));
    g.push(T("{a|Log}{b|2}{a| FC ZW  }{i|vs.}{a|  ZZ}", p.yx, p.yy, { rich: logRich, rotation: Math.PI / 2 }));
  }
  // panel D texts
  g.push(T("Number of genes x1000", 860, 788, { rotation: Math.PI / 2 }), T("More highly", 936, 537, { align: "left" }), T("expression in:", 936, 571, { align: "left" }), T("ZW", 975, 612, { align: "left" }), T("ZZ", 975, 648, { align: "left" }));
  const swatch = (y: number, c: string) => ({ type: "rect", z: 40, shape: { x: 941, y, width: 16.5, height: 18.5 }, style: { fill: c, stroke: "#555", lineWidth: 1 } });
  g.push(swatch(601.7, "#069a06"), swatch(636.5, "#cc9900"));
  const dLabels: [string, number][] = [["Stage: 6/7", 922], ["12", 1074], ["16", 1183], ["Adult", 1280]];
  dLabels.forEach(([s, x]) => g.push(T(s, x, 1048)));
  // panel E colour bar text
  g.push(T("1.0", 1272, 1179, { align: "left", size: 28 }), T("0.5", 1272, 1228, { align: "left", size: 28 }), T("0.0", 1272, 1278, { align: "left", size: 28 }));
  [1181, 1229.5, 1278].forEach((y) => g.push(L(1264, y, 1271, y, 1)));
  // sample bars
  const cw = (1414 - 891.4) / 36;
  let c = 0;
  for (const [s, n] of stageGroups) {
    g.push({ type: "rect", z: 40, shape: { x: 891.4 + c * cw, y: 1922, width: n * cw, height: 27 }, style: { fill: "#fff", stroke: "#111", lineWidth: 1.4 } });
    g.push(T(s, 891.4 + (c + n / 2) * cw, 1936, { size: 29 }));
    c += n;
  }
  g.push({ type: "rect", z: 40, shape: { x: 891.4, y: 1949, width: 20 * cw, height: 34 }, style: { fill: "#069a06", stroke: "#111", lineWidth: 1.4 } });
  g.push({ type: "rect", z: 40, shape: { x: 891.4 + 20 * cw, y: 1949, width: 16 * cw, height: 34 }, style: { fill: "#cc9900", stroke: "#111", lineWidth: 1.4 } });
  g.push(T("ZW", 891.4 + 10 * cw, 1966, { size: 33 }), T("ZZ", 891.4 + 28 * cw, 1966, { size: 33 }));
  // dendrogram
  const dg = "#999";
  const dendro = [
    [[864.7, 1450], [765, 1450], [765, 1768], [855, 1768]],
    [[874, 1342], [864.7, 1342], [864.7, 1558], [872, 1558]],
    [[876.5, 1705], [855, 1705], [855, 1832], [872, 1832]],
    [[880, 1308], [874, 1308], [874, 1407], [880, 1407]],
    [[878, 1508], [872, 1508], [872, 1608], [878, 1608]],
    [[882, 1682], [876.5, 1682], [876.5, 1737], [882, 1737]],
    [[879, 1793], [872, 1793], [872, 1870], [879, 1870]],
    [[884, 1298], [880, 1298], [880, 1318], [884, 1318]],
    [[884, 1380], [880, 1380], [880, 1430], [884, 1430]],
    [[884, 1480], [878, 1480], [878, 1535], [884, 1535]],
    [[884, 1590], [878, 1590], [878, 1640], [884, 1640]],
    [[885, 1675], [882, 1675], [882, 1695], [885, 1695]],
    [[885, 1720], [882, 1720], [882, 1755], [885, 1755]],
    [[884, 1775], [879, 1775], [879, 1812], [884, 1812]],
    [[884, 1850], [879, 1850], [879, 1890], [884, 1890]],
  ];
  dendro.forEach((d) => g.push(P(d, 1.3, dg)));
  for (let y = 1298; y < 1922; y += 5) g.push(L(884, y, 889.5, y, 0.8, "#aaa"));
  return g;
}

function scatterPanel(i: number, d: { core: number[][]; fringe: number[][]; grey: number[]; up: number[]; down: number[]; denseUp?: number[][]; denseDown?: number[][] }) {
  const poly = (pts: number[][], fill: string, z: number) => ({
    type: "custom", xAxisIndex: i, yAxisIndex: i, z, silent: true, data: [[0, 0]], clip: false,
    renderItem: (_: any, api: any) => ({ type: "polygon", shape: { points: pts.map((p) => api.coord(p)) }, style: { fill } }),
  });
  const dots = (data: number[][], size: number, color: string, border: string, bw: number, z: number) => ({
    type: "scatter", xAxisIndex: i, yAxisIndex: i, z, data, symbolSize: size, silent: true, itemStyle: { color, borderColor: border, borderWidth: bw, opacity: 1 },
  });
  const out: any[] = [
    poly(d.fringe, "#c2c2c2", 1), poly(d.core, "#a9a9a9", 3),
    dots(pairs(d.grey), 5, "#a9a9a9", "#a9a9a9", 0, 2),
    { type: "line", xAxisIndex: i, yAxisIndex: i, z: 4, showSymbol: false, silent: true, data: [[-1.85, 0], [5.9, 0]], lineStyle: { color: "#222", width: 2 } },
  ];
  if (d.denseUp) out.push(poly(d.denseUp, "#44701a", 4.5));
  if (d.denseDown) out.push(poly(d.denseDown, "#c08a1c", 4.5));
  out.push(
    dots(pairs(d.up), 7, "#5a8a1c", "#2b4a10", 0.9, 5),
    dots(pairs(d.down), 7, "#e8a11f", "#5a4010", 0.9, 5),
    dots([dmrt1Values[i], legendDots[0]], 12, "#ff14e6", "#777", 0.8, 7),
    dots([amhValues[i], legendDots[1]], 12, "#1df2f2", "#777", 0.8, 7),
  );
  return out;
}

export default function App() {
  const ref = useRef<HTMLDivElement>(null);
  useEffect(() => {
    document.body.style.margin = "0";
    const chart = echarts.init(ref.current!, undefined, { renderer: "svg" });
    const g3 = [
      { left: 110, top: 442.7, w: 545, h: 405.3, xo: 3, yo: 8 },
      { left: 109, top: 969, w: 545, h: 405, xo: 2, yo: 10 },
      { left: 108.5, top: 1490, w: 544.5, h: 405, xo: 2, yo: 11 },
    ];
    const axisLine = { lineStyle: { color: "#000", width: 2.4 } };
    const grid: any[] = g3.map((p) => ({ left: p.left, top: p.top, width: p.w, height: p.h }));
    grid.push({ left: 913, top: 523.3, width: 427.5, height: 499.7 });
    grid.push({ left: 891.4, top: 1296.7, width: 524.6, height: 625 });
    const xRich: any = {};
    xLabelNudge.forEach((n, i) => { xRich["n" + i] = { fontSize: 34, fontFamily: FONT, color: "#000", padding: n < 0 ? [0, -2 * n, 0, 0] : [0, 0, 0, 2 * n] }; });
    const yRich = {
      t: { fontSize: 34, fontFamily: FONT, color: "#000", padding: [30, 0, 0, 0] },
      m: { fontSize: 34, fontFamily: FONT, color: "#000", padding: [8, 0, 0, 0] },
      b: { fontSize: 34, fontFamily: FONT, color: "#000" },
    };
    const xAxis: any[] = g3.map((p, i) => ({
      type: "value", gridIndex: i, min: -2, max: 6, interval: 1, offset: p.xo, splitLine: { show: false },
      axisLine: { ...axisLine, onZero: false, show: true }, axisTick: { show: true, length: 10, lineStyle: { color: "#000", width: 2.2 } },
      axisLabel: { margin: 12, formatter: (v: number) => `{n${v + 2}|${v}}`, rich: xRich },
    }));
    const yAxis: any[] = g3.map((p, i) => ({
      type: "value", gridIndex: i, min: -10, max: 10, interval: 5, offset: p.yo, splitLine: { show: false },
      axisLine: { ...axisLine, onZero: false, show: true }, axisTick: { show: true, length: 10, lineStyle: { color: "#000", width: 2.2 } },
      axisLabel: { margin: 17, formatter: (v: number) => `{${v === 10 ? "t" : v === -10 ? "b" : "m"}|${v}}`, rich: yRich },
    }));
    xAxis.push({ type: "category", gridIndex: 3, data: barCategories, axisLine: { show: false }, axisTick: { show: false }, axisLabel: { show: false } });
    yAxis.push({
      type: "value", gridIndex: 3, min: 0, max: 5000, interval: 1000, offset: -7.7, splitLine: { show: false },
      axisLine: { ...axisLine, onZero: false, show: true }, axisTick: { show: true, length: 11, lineStyle: { color: "#000", width: 2.2 } },
      minorTick: { show: true, splitNumber: 2, length: 7, lineStyle: { color: "#000", width: 1.6 } }, minorSplitLine: { show: false },
      axisLabel: { color: "#000", fontSize: 34, fontFamily: FONT, margin: 17, formatter: (v: number) => String(v / 1000) },
    });
    const rows = [...heatTop, ...heatBottom].map((r) => r.replace(/ /g, ""));
    const heatData: number[][] = [];
    rows.forEach((r, y) => { for (let c = 0; c < 36; c++) heatData.push([c, y, Number(r[c % r.length]) / 9]); });
    xAxis.push({ type: "category", gridIndex: 4, show: false, data: Array.from({ length: 36 }, (_, i) => String(i)) });
    yAxis.push({ type: "category", gridIndex: 4, show: false, inverse: true, data: rows.map((_, i) => String(i)) });
    const series: any[] = [
      ...scatterPanel(0, { core: coreB1, fringe: fringeB1, grey: greyB1, up: upB1, down: downB1 }),
      ...scatterPanel(1, { core: coreB2, fringe: fringeB2, grey: greyB2, up: upB2, down: downB2, denseUp: denseUpB2, denseDown: denseDownB2 }),
      ...scatterPanel(2, { core: coreB3, fringe: fringeB3, grey: greyB3, up: upB3, down: downB3, denseUp: denseUpB3, denseDown: denseDownB3 }),
    ];
    const barLabel = { show: true, rotate: 90, position: "top", align: "left", verticalAlign: "middle", distance: 12, color: "#000", fontSize: 31, fontFamily: FONT };
    const grad = (a: string, b: string) => new echarts.graphic.LinearGradient(0, 0, 0, 1, [{ offset: 0, color: a }, { offset: 1, color: b }]);
    series.push({ type: "bar", xAxisIndex: 3, yAxisIndex: 3, barWidth: 30, barGap: "10%", data: zwGenes, label: barLabel, itemStyle: { color: grad("#069a06", "#4db84d"), borderColor: "#555", borderWidth: 1 } });
    series.push({
      type: "bar", xAxisIndex: 3, yAxisIndex: 3, barWidth: 30,
      data: zzGenes.map((v) => (v > 4000 ? { value: v, label: { ...barLabel, offset: [-133, 0] } } : v)),
      label: barLabel, itemStyle: { color: grad("#cc9900", "#ddb84a"), borderColor: "#555", borderWidth: 1 },
    });
    const heatIndex = series.length;
    series.push({ type: "heatmap", xAxisIndex: 4, yAxisIndex: 4, data: heatData, progressive: 0, silent: true, itemStyle: { borderWidth: 0 } });
    chart.setOption({
      animation: false,
      backgroundColor: "#fff",
      grid, xAxis, yAxis, series,
      tooltip: { show: false },
      visualMap: {
        type: "continuous", seriesIndex: heatIndex, min: 0, max: 1, show: true, calculable: false, orient: "vertical",
        itemWidth: 36, itemHeight: 98, left: 1228, top: 1181, padding: 0, text: ["", ""], showLabel: false,
        inRange: { color: rocket },
      },
      graphic: { elements: buildGraphic() },
    });
    return () => chart.dispose();
  }, []);
  return <div ref={ref} style={{ width: 1416, height: 1988 }} />;
}
